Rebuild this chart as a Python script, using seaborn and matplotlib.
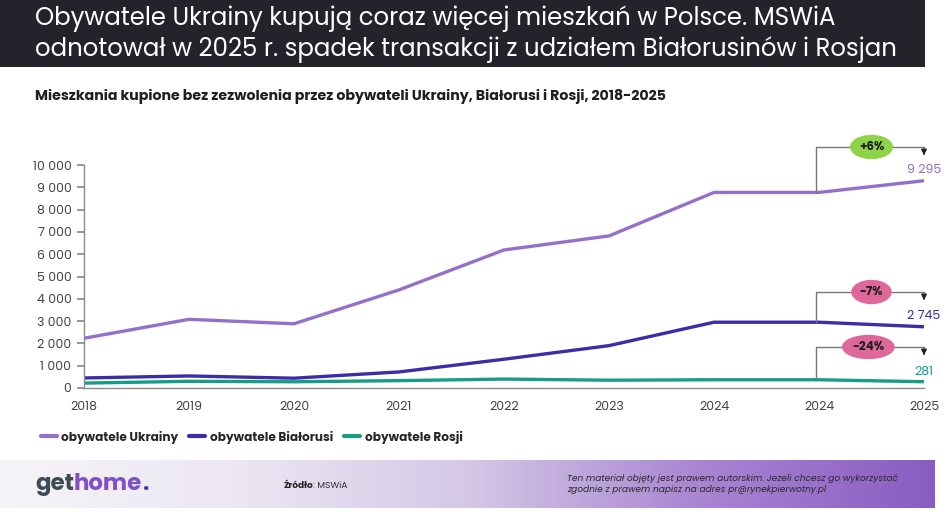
import numpy as np
import pandas as pd
import matplotlib
matplotlib.use("Agg")
import matplotlib.pyplot as plt
from matplotlib.colors import LinearSegmentedColormap
from matplotlib.lines import Line2D
import seaborn as sns

# ---- data ----
years = ["2018", "2019", "2020", "2021", "2022", "2023", "2024", "2024", "2025"]
ukraine = [2230, 3080, 2880, 4400, 6190, 6820, 8770, 8770, 9295]
belarus = [450, 540, 440, 720, 1290, 1900, 2950, 2950, 2745]
russia = [220, 300, 280, 330, 400, 350, 370, 370, 281]
series_names = ["obywatele Ukrainy", "obywatele Białorusi", "obywatele Rosji"]
changes = ["+6%", "-7%", "-24%"]
end_labels = ["9 295", "2 745", "281"]
yticks = [0, 1000, 2000, 3000, 4000, 5000, 6000, 7000, 8000, 9000, 10000]

colors = ["#9470c8", "#3a2ea6", "#179c87"]
pill_colors = ["#8fd34b", "#e0679a", "#e0679a"]

rows = []
for name, vals in zip(series_names, [ukraine, belarus, russia]):
    for i, v in enumerate(vals):
        rows.append({"idx": i, "value": v, "series": name})
df = pd.DataFrame(rows)

sns.set_theme(style="white")
plt.rcParams["font.family"] = ["Poppins", "Lato", "DejaVu Sans"]

fig = plt.figure(figsize=(9.48, 5.15), dpi=100)
W, H = 948, 515

def fx(px):
    return px / W

def fy(py):
    return 1 - py / H

# Title bar
tb = fig.add_axes([0, fy(67), fx(925), 67 / H])
tb.set_facecolor("#24232c")
tb.set_xticks([]); tb.set_yticks([])
for s in tb.spines.values():
    s.set_visible(False)
fig.text(fx(35), fy(19), "Obywatele Ukrainy kupują coraz więcej mieszkań w Polsce. MSWiA",
         color="white", fontsize=17.6, va="center", ha="left")
fig.text(fx(35), fy(50), "odnotował w 2025 r. spadek transakcji z udziałem Białorusinów i Rosjan",
         color="white", fontsize=17.6, va="center", ha="left")

fig.text(fx(35), fy(97), "Mieszkania kupione bez zezwolenia przez obywateli Ukrainy, Białorusi i Rosji, 2018-2025",
         color="#1e1e24", fontsize=10.2, fontweight="bold", va="center", ha="left")

# Main axes
ax = fig.add_axes([fx(84), fy(388), fx(924) - fx(84), (388 - 165) / H])
sns.lineplot(data=df, x="idx", y="value", hue="series", palette=colors,
             linewidth=2.4, ax=ax, legend=False)
ax.set_xlim(0, len(years) - 1)
ax.set_ylim(0, 10000)
ax.set_xticks(range(len(years)))
ax.set_xticklabels(years)
ax.set_yticks(yticks)
ax.set_yticklabels([f"{v:,}".replace(",", " ") for v in yticks])
ax.set_xlabel(""); ax.set_ylabel("")
for s in ["top", "right"]:
    ax.spines[s].set_visible(False)
for s in ["left", "bottom"]:
    ax.spines[s].set_color("#8a8a8a")
    ax.spines[s].set_linewidth(1.0)
ax.tick_params(axis="y", left=True, length=5, color="#8a8a8a", labelsize=9, labelcolor="#444444", pad=4)
ax.tick_params(axis="x", bottom=False, labelsize=9, labelcolor="#444444", pad=3)
ax.patch.set_alpha(0)

# Bracket annotations
upp = 10000 / (388 - 165)  # data units per pixel
tops = [147, 292, 347]
label_y = [170, 316, 372]
pill_x = [7.5, 7.5, 7.47]
for k, vals in enumerate([ukraine, belarus, russia]):
    x0 = 6.97
    x1 = 8
    ytop = (388 - tops[k]) * upp
    ybase = vals[7]
    ax.plot([x0, x0, x1, x1], [ybase, ytop, ytop, ytop - 4 * upp], color="#777777", lw=1.0,
            clip_on=False, zorder=3)
    ax.annotate("", xy=(x1, ytop - 11 * upp), xytext=(x1, ytop - 3 * upp),
                arrowprops=dict(arrowstyle="-|>", color="#222222", lw=1.0, mutation_scale=8),
                annotation_clip=False)
    ax.text(pill_x[k], ytop, changes[k], ha="center", va="center", fontsize=8.5, fontweight="bold",
            color="#1e1e1e", zorder=5, clip_on=False,
            bbox=dict(boxstyle="ellipse,pad=0.22", fc=pill_colors[k], ec="none"))
    ax.text(x1, (388 - label_y[k]) * upp, end_labels[k], ha="center", va="center",
            fontsize=9, color=colors[k], clip_on=False)

# Legend
handles = [Line2D([0], [0], color=c, lw=3) for c in colors]
fig.legend(handles, series_names, loc="center left", bbox_to_anchor=(fx(30), fy(437)),
           ncol=3, frameon=False, handlelength=1.3, handletextpad=0.4, columnspacing=0.9,
           prop={"size": 8.7, "weight": "bold"})

# Footer gradient
fa = fig.add_axes([0, fy(508), fx(935), 48 / H])
cmap = LinearSegmentedColormap.from_list("ft", ["#f6f4f8", "#ece7f3", "#d4c8e6", "#a985d2", "#8a5cc2"],)
grad = np.linspace(0, 1, 512).reshape(1, -1)
fa.imshow(grad, aspect="auto", cmap=cmap, extent=[0, 1, 0, 1])
fa.set_xticks([]); fa.set_yticks([])
for s in fa.spines.values():
    s.set_visible(False)

# Logo
logo_y = fy(485)
t1 = fig.text(fx(35), logo_y, "get", fontsize=16.5, fontweight="bold", color="#3d4b57", va="center")
fig.canvas.draw()
bb = t1.get_window_extent()
t2 = fig.text(bb.x1 / W, logo_y, "home", fontsize=16.5, fontweight="bold", color="#8050c8", va="center")
fig.canvas.draw()
bb2 = t2.get_window_extent()
fig.text(bb2.x1 / W, logo_y, ".", fontsize=16.5, fontweight="bold", color="#3f3aa8", va="center")

t3 = fig.text(fx(283), fy(485), "Źródło", fontsize=6.5, fontweight="bold", color="#222222", va="center")
fig.canvas.draw()
bb3 = t3.get_window_extent()
fig.text(bb3.x1 / W, fy(485), ": MSWiA", fontsize=6.5, color="#333333", va="center")

fig.text(fx(567), fy(478), "Ten materiał objęty jest prawem autorskim. Jeżeli chcesz go wykorzystać",
         fontsize=6.5, style="italic", color="#2a2a2a", va="center")
fig.text(fx(567), fy(490), "zgodnie z prawem napisz na adres pr@rynekpierwotny.pl",
         fontsize=6.5, style="italic", color="#2a2a2a", va="center")

fig.savefig("out.png", dpi=100)
